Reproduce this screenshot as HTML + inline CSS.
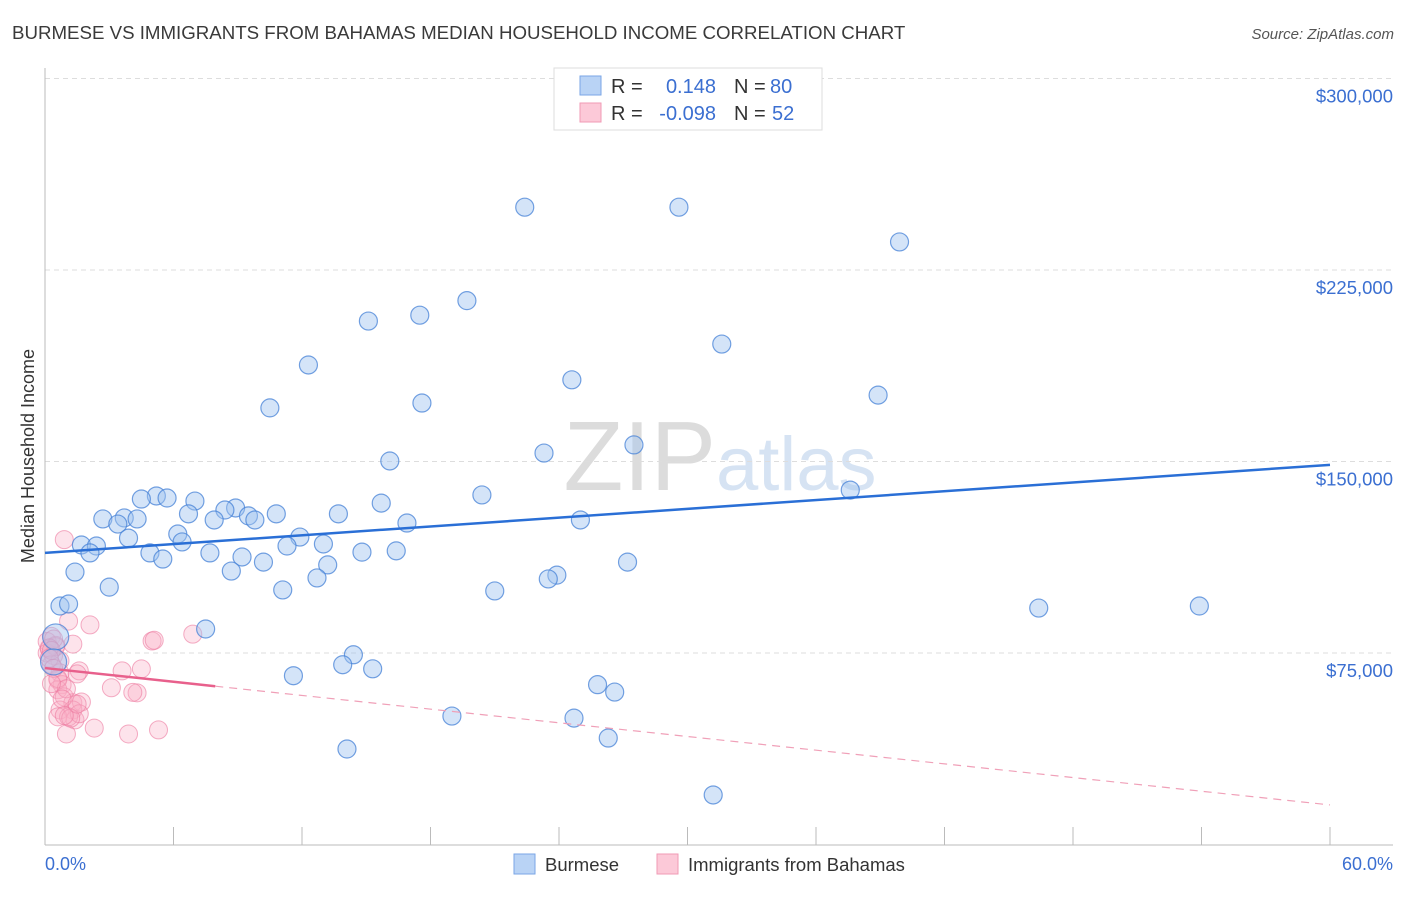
<!DOCTYPE html>
<html><head><meta charset="utf-8"><style>
body{margin:0;background:#fff;font-family:"Liberation Sans",sans-serif}
svg text{font-family:"Liberation Sans",sans-serif}
</style></head><body>
<svg id="chart" width="1406" height="892" xmlns="http://www.w3.org/2000/svg">
<text x="12" y="39" font-size="18.7" fill="#3a3a3a">BURMESE VS IMMIGRANTS FROM BAHAMAS MEDIAN HOUSEHOLD INCOME CORRELATION CHART</text>
<text x="1394" y="39" font-size="15" fill="#555" text-anchor="end" font-style="italic">Source: ZipAtlas.com</text>
<text x="720" y="490" font-size="98" fill="#e4e4e4" text-anchor="middle" font-family="Liberation Serif"><tspan fill="#dcdcdc">ZIP</tspan><tspan fill="#d6e3f3" font-family="Liberation Sans" font-size="76">atlas</tspan></text>
<g id="grid"></g>
<g id="axes"></g>
<g id="pink"></g>
<g id="blue"></g>
<g id="trends"></g>
<text transform="translate(34,456) rotate(-90)" font-size="18" fill="#333" text-anchor="middle">Median Household Income</text>
<text x="45" y="870" font-size="18" fill="#3b6fd1">0.0%</text>
<text x="1393" y="870" font-size="18" fill="#3b6fd1" text-anchor="end">60.0%</text>
<g>
<rect x="554" y="68" width="268" height="62" fill="#fff" stroke="#ddd"/>
<rect x="580" y="76" width="21" height="19" fill="#b9d3f5" stroke="#7aa6e6"/>
<rect x="580" y="103" width="21" height="19" fill="#fcc9d8" stroke="#f09ab5"/>
<text x="611" y="93" font-size="20" fill="#333">R =</text>
<text x="716" y="93" font-size="20" fill="#3b6fd1" text-anchor="end">0.148</text>
<text x="734" y="93" font-size="20" fill="#333">N =</text>
<text x="770" y="93" font-size="20" fill="#3b6fd1">80</text>
<text x="611" y="120" font-size="20" fill="#333">R =</text>
<text x="716" y="120" font-size="20" fill="#3b6fd1" text-anchor="end">-0.098</text>
<text x="734" y="120" font-size="20" fill="#333">N =</text>
<text x="772" y="120" font-size="20" fill="#3b6fd1">52</text>
</g>
<g>
<rect x="514" y="854" width="21" height="20" fill="#b9d3f5" stroke="#7aa6e6"/>
<text x="545" y="871" font-size="18.5" fill="#333">Burmese</text>
<rect x="657" y="854" width="21" height="20" fill="#fcc9d8" stroke="#f09ab5"/>
<text x="688" y="871" font-size="18.5" fill="#333">Immigrants from Bahamas</text>
</g>
</svg>
<script>
const yTicks=[75000,150000,225000,300000];
const yTickLabels=["$75,000","$150,000","$225,000","$300,000"];
const xTicks=[0,6,12,18,24,30,36,42,48,54,60];
const blueX=[22.4,29.6,39.9,19.7,17.5,15.1,31.6,12.3,24.6,38.9,17.6,10.5,27.5,23.3,16.1,37.6,20.4,5.2,4.5,5.7,7.0,15.7,8.9,8.4,6.7,9.5,10.8,13.7,2.7,3.7,4.3,7.9,9.8,3.4,16.9,25.0,6.2,11.9,3.9,1.7,2.4,6.4,13.0,11.3,2.1,4.9,7.7,14.8,16.4,9.2,5.5,10.2,13.2,27.2,1.4,8.7,23.9,23.5,12.7,3.0,11.1,21.0,0.7,1.1,46.4,53.9,7.5,0.5,0.4,14.4,13.9,15.3,11.6,25.8,26.6,19.0,24.7,26.3,14.1,31.2];
const blueY=[249.6,249.6,236,213,207.3,205,196,187.8,182,176,172.9,171,156.5,153.3,150.2,138.8,136.9,136.5,135.3,135.7,134.5,133.7,131.8,131,129.5,128.7,129.5,129.5,127.5,127.9,127.5,127.1,127.1,125.5,125.9,127.1,121.6,120.4,120,117.3,116.9,118.5,117.7,116.9,114.2,114.2,114.2,114.5,115,112.6,111.8,110.6,109.5,110.6,106.7,107.1,105.5,104,104.4,100.8,99.7,99.3,93.4,94.2,92.6,93.4,84.4,81.3,71.5,74.3,70.4,68.8,66.1,62.6,59.7,50.3,49.5,41.7,37.4,19.4];
const blueBig=[67,68];
const pinkX=[0.9,1.1,2.1,6.9,5.0,1.3,0.3,0.1,0.5,0.2,0.1,0.4,0.7,0.3,1.6,3.6,4.5,1.5,0.7,0.6,0.8,0.6,3.1,4.3,4.1,0.9,1.3,1.7,0.7,1.3,0.6,1.4,1.1,1.6,1.0,2.3,3.9,5.3,0.5,0.4,0.2,0.3,0.6,1.0,0.8,0.2,0.4,1.2,0.9,1.5,0.3,5.1];
const pinkY=[119.4,87.5,86,82.4,79.7,78.5,81.5,79.5,78,76.5,75,74,72,70.5,68,68,68.8,66.8,67.2,64.5,62.6,60.6,61.4,59.4,59.6,57.8,55.5,55.8,52.7,52.7,50,48.8,50,51.2,43.3,45.6,43.3,44.9,77.5,80.5,77,76,65,61,57,73,69,49.5,50.5,55,63,80];
const blueTrend=[114.2,148.7];
const pinkTrend=[69.1,15.5];
const pinkSolidEnd=7.95;
const NS="http://www.w3.org/2000/svg";
const X=v=>45+v/60*1285;
const Y=v=>844.5-v/75000*191.5;
const Yk=v=>Y(v*1000);
function mk(t,a,p){const e=document.createElementNS(NS,t);for(const k in a)e.setAttribute(k,a[k]);p.appendChild(e);return e;}
const grid=document.getElementById('grid'),axes=document.getElementById('axes');
yTicks.forEach((t,i)=>{
 const l=mk('line',{x1:45,x2:1393,y1:Y(t),y2:Y(t),stroke:'#ddd','stroke-dasharray':'5,4'},grid);
 
 
 const tx=mk('text',{x:1393,y:Y(t)+24,'font-size':18.5,fill:'#3b6fd1','text-anchor':'end'},axes);
 tx.textContent=yTickLabels[i];
 
 
});
const ya=mk('line',{x1:45,x2:45,y1:68,y2:845,stroke:'#bbb'},axes);


const xa=mk('line',{x1:45,x2:1393,y1:845,y2:845,stroke:'#bbb'},axes);


xTicks.forEach(t=>{
 const l=mk('line',{x1:X(t),x2:X(t),y1:827,y2:845,stroke:'#bbb'},axes);
 
 
});
const pg=document.getElementById('pink');
pinkX.forEach((x,i)=>{
 const c=mk('circle',{cx:X(x),cy:Yk(pinkY[i]),r:9,fill:'rgba(248,175,198,0.35)',stroke:'rgba(236,120,158,0.6)','stroke-width':1},pg);
 
 
});
const bg=document.getElementById('blue');
blueX.forEach((x,i)=>{
 const big=blueBig.includes(i);
 const c=mk('circle',{cx:X(x),cy:Yk(blueY[i]),r:big?13:9,fill:'rgba(160,195,240,0.45)',stroke:'rgba(70,130,215,0.75)','stroke-width':1.2},bg);
 
 
});
const tg=document.getElementById('trends');
const bt=mk('line',{x1:X(0),y1:Yk(blueTrend[0]),x2:X(60),y2:Yk(blueTrend[1]),stroke:'#2a6fd6','stroke-width':2.5},tg);


const pAt=x=>pinkTrend[0]+(pinkTrend[1]-pinkTrend[0])*x/60;
const ps=mk('line',{x1:X(0),y1:Yk(pAt(0)),x2:X(pinkSolidEnd),y2:Yk(pAt(pinkSolidEnd)),stroke:'#e8608c','stroke-width':2.5},tg);


const pd=mk('line',{x1:X(pinkSolidEnd),y1:Yk(pAt(pinkSolidEnd)),x2:X(60),y2:Yk(pAt(60)),stroke:'#f0a0b8','stroke-width':1.2,'stroke-dasharray':'8,6'},tg);


</script>
</body></html>
